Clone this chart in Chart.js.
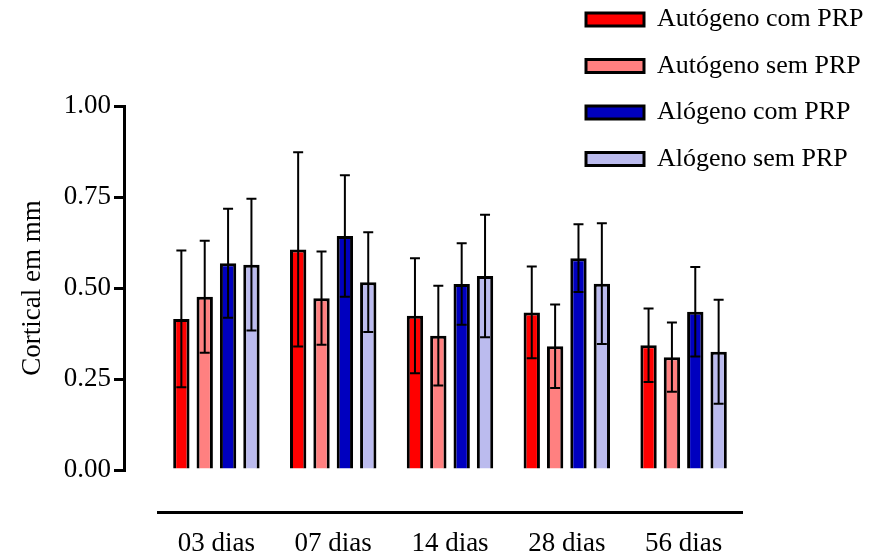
<!DOCTYPE html>
<html lang="pt">
<head>
  <meta charset="UTF-8">
  <title>Cortical em mm</title>
  <script src="https://cdn.jsdelivr.net/npm/chart.js"></script>
  <style>
    html, body { margin: 0; padding: 0; background: #fff; }
    #wrap { width: 880px; height: 555px; }
  </style>
</head>
<body>
  <div id="wrap"><canvas id="chart" width="880" height="555"></canvas></div>

  <script>
    const categories = ['03 dias', '07 dias', '14 dias', '28 dias', '56 dias'];
    const seriesNames = ['Autógeno com PRP', 'Autógeno sem PRP', 'Alógeno com PRP', 'Alógeno sem PRP'];

    // médias
    const autoCom = [0.415, 0.606, 0.424, 0.433, 0.343];
    const autoSem = [0.476, 0.472, 0.369, 0.340, 0.310];
    const aloCom  = [0.568, 0.643, 0.511, 0.582, 0.435];
    const aloSem  = [0.564, 0.516, 0.533, 0.512, 0.325];

    // desvios (barras de erro)
    const autoComSd = [0.188, 0.267, 0.158, 0.126, 0.101];
    const autoSemSd = [0.154, 0.128, 0.137, 0.115, 0.095];
    const aloComSd  = [0.150, 0.167, 0.112, 0.093, 0.123];
    const aloSemSd  = [0.181, 0.137, 0.168, 0.166, 0.143];

    const yTicks = [0, 0.25, 0.5, 0.75, 1.0];

    const colors = ['#ff0000', '#ff8080', '#0000bf', '#bbbbee'];
    const values = [autoCom, autoSem, aloCom, aloSem];
    const sds = [autoComSd, autoSemSd, aloComSd, aloSemSd];

    const serif = 'Liberation Serif';

    const errorBars = {
      id: 'errorBars',
      afterDatasetsDraw(chart) {
        const ctx = chart.ctx;
        const y = chart.scales.y;
        ctx.save();
        ctx.strokeStyle = '#000';
        ctx.lineWidth = 2;
        chart.data.datasets.forEach((ds, i) => {
          chart.getDatasetMeta(i).data.forEach((bar, j) => {
            const m = ds.data[j], s = ds.sd[j];
            const top = y.getPixelForValue(m + s);
            const bot = y.getPixelForValue(m - s);
            ctx.beginPath();
            ctx.moveTo(bar.x, top); ctx.lineTo(bar.x, bot);
            ctx.moveTo(bar.x - 5, top); ctx.lineTo(bar.x + 5, top);
            ctx.moveTo(bar.x - 5, bot); ctx.lineTo(bar.x + 5, bot);
            ctx.stroke();
          });
        });
        ctx.restore();
      }
    };

    // legend sits above the plot, top right
    const legendPlace = {
      id: 'legendPlace',
      beforeDraw(chart) {
        const lg = chart.legend;
        const w = lg.width, h = lg.height;
        lg.left = 565.5; lg.right = lg.left + w;
        lg.top = -14; lg.bottom = lg.top + h;
      }
    };

    new Chart(document.getElementById('chart'), {
      type: 'bar',
      data: {
        labels: categories,
        datasets: seriesNames.map((name, i) => ({
          label: name,
          data: values[i],
          sd: sds[i],
          backgroundColor: colors[i],
          borderColor: '#000',
          borderWidth: 3,
          xAxisID: 'x',
          yAxisID: 'y',
          categoryPercentage: 0.8,
          barPercentage: 0.7
        }))
      },
      options: {
        responsive: false,
        animation: false,
        layout: { padding: { top: 106, right: 138, left: 0, bottom: 0 } },
        plugins: {
          tooltip: { enabled: false },
          legend: {
            position: 'chartArea',
            align: 'start',
            labels: {
              boxWidth: 58,
              boxHeight: 13,
              padding: 20.5,
              color: '#000',
              font: { family: serif, size: 26 }
            }
          }
        },
        scales: {
          x: {
            type: 'category',
            position: 'bottom',
            weight: 1,
            grid: { display: true, drawOnChartArea: false, drawTicks: false },
            border: { display: true, color: '#000', width: 3 },
            ticks: { color: '#000', padding: 16, font: { family: serif, size: 27 } },
            afterFit: s => { s.height = 43; }
          },
          xs: {
            type: 'linear',
            position: 'bottom',
            weight: 0,
            grid: { display: false },
            border: { display: false },
            ticks: { display: false },
            afterFit: s => { s.height = 42; }
          },
          y: {
            type: 'linear',
            position: 'left',
            weight: 1,
            min: 0,
            max: 1,
            afterBuildTicks: s => { s.ticks = yTicks.map(v => ({ value: v })); },
            grid: { drawOnChartArea: false, drawTicks: true, tickLength: 10, color: '#000', lineWidth: 3 },
            border: { display: true, color: '#000', width: 3 },
            ticks: {
              color: '#000',
              padding: 3,
              font: { family: serif, size: 27 },
              callback: v => Number(v).toFixed(2)
            },
            title: {
              display: true,
              text: 'Cortical em mm',
              color: '#000',
              padding: { top: 17, bottom: 0 },
              font: { family: serif, size: 27 }
            },
            afterFit: s => { s.width = 124; }
          },
          ys: {
            type: 'linear',
            position: 'left',
            weight: 0,
            grid: { display: false },
            border: { display: false },
            ticks: { display: false },
            afterFit: s => { s.width = 34; }
          }
        }
      },
      plugins: [errorBars, legendPlace]
    });
  </script>
</body>
</html>
